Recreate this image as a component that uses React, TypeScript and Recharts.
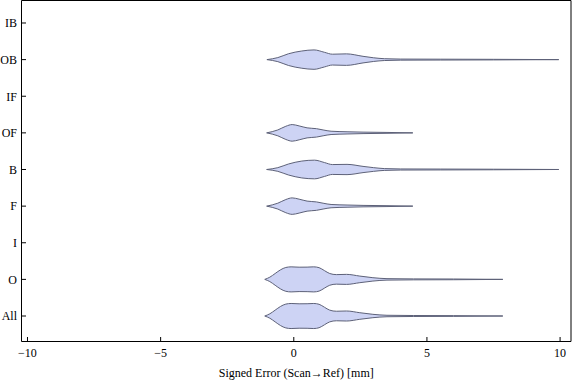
import { Area, ComposedChart, XAxis, YAxis } from "recharts";

// top to bottom, as in the figure
const categories = ["IB", "OB", "IF", "OF", "B", "F", "I", "O", "All"];

const xMajorTicks = [-10, -5, 0, 5, 10];
const xMinorTicks = [
  -10, -9, -8, -7, -6, -5, -4, -3, -2, -1, 0, 1, 2, 3, 4, 5, 6, 7, 8, 9, 10,
];

// violin profiles: signed error [mm] and density half-width
const obX = [-1.01, -0.6, -0.2, 0.3, 0.76, 1.15, 1.45, 1.98, 2.6, 3.0, 3.4, 4.0, 5.5, 7.5, 9.95];
const obW = [0, 0.055, 0.16, 0.235, 0.265, 0.2, 0.148, 0.157, 0.09, 0.05, 0.025, 0.015, 0.012, 0.008, 0];

const ofX = [-1.02, -0.6, -0.3, -0.06, 0.2, 0.5, 0.85, 1.1, 1.4, 2.0, 2.6, 3.5, 4.47];
const ofW = [0, 0.08, 0.18, 0.227, 0.19, 0.137, 0.115, 0.08, 0.045, 0.03, 0.02, 0.012, 0];

const bX = [-1.02, -0.6, -0.2, 0.3, 0.78, 1.15, 1.45, 2.0, 2.6, 3.0, 3.4, 4.0, 5.5, 7.5, 9.95];
const bW = [0, 0.05, 0.15, 0.23, 0.255, 0.19, 0.135, 0.14, 0.085, 0.05, 0.025, 0.015, 0.012, 0.008, 0];

const fX = [-1.02, -0.6, -0.3, -0.06, 0.2, 0.5, 0.85, 1.1, 1.4, 2.0, 2.6, 3.5, 4.47];
const fW = [0, 0.08, 0.18, 0.225, 0.19, 0.137, 0.115, 0.08, 0.045, 0.03, 0.02, 0.012, 0];

const oX = [-1.09, -0.9, -0.7, -0.5, -0.3, -0.1, 0.2, 0.5, 0.75, 0.95, 1.15, 1.35, 1.6, 1.98, 2.48, 2.97, 3.5, 4.5, 6.0, 7.85];
const oW = [0, 0.06, 0.16, 0.26, 0.325, 0.342, 0.333, 0.335, 0.342, 0.32, 0.24, 0.16, 0.13, 0.137, 0.09, 0.046, 0.02, 0.013, 0.01, 0];

const allX = [-1.09, -0.9, -0.7, -0.5, -0.3, -0.1, 0.2, 0.5, 0.75, 0.95, 1.15, 1.35, 1.6, 1.98, 2.48, 2.97, 3.5, 4.5, 6.0, 7.85];
const allW = [0, 0.06, 0.16, 0.26, 0.325, 0.342, 0.333, 0.335, 0.342, 0.32, 0.24, 0.16, 0.13, 0.137, 0.09, 0.046, 0.02, 0.013, 0.01, 0];

const profiles: Record<string, { x: number[]; w: number[] }> = {
  OB: { x: obX, w: obW },
  OF: { x: ofX, w: ofW },
  B: { x: bX, w: bW },
  F: { x: fX, w: fW },
  O: { x: oX, w: oW },
  All: { x: allX, w: allW },
};

const catPos = (i: number) => categories.length - i;
const yTicks = categories.map((_, i) => catPos(i));
const labelAt = (v: number) => categories[categories.length - v] ?? "";
const fmtX = (v: number) => (v < 0 ? `\u2212${Math.abs(v)}` : String(v));

const serif = "Liberation Serif";
const font = { fontFamily: serif, fontSize: 12, fill: "#000" };
const frame = { stroke: "#000", strokeWidth: 1 };

export default function App() {
  const series = categories
    .map((cat, i) => {
      const p = profiles[cat];
      if (!p) return null;
      const c = catPos(i);
      return {
        cat,
        data: p.x.map((x, k) => ({ x, range: [c - p.w[k], c + p.w[k]] })),
      };
    })
    .filter(Boolean) as { cat: string; data: { x: number; range: number[] }[] }[];

  const xDomain = [-10.225, 10.41];
  const yDomain = [0.304, 9.614];

  return (
    <div style={{ position: "absolute", left: 0, top: 0, fontFamily: serif }}>
      <ComposedChart
        width={576}
        height={381}
        margin={{ top: 0.5, right: 5, bottom: 0, left: 0.5 }}
        style={{ fontFamily: serif }}
      >
        <XAxis
          xAxisId="minorBottom"
          type="number"
          orientation="bottom"
          mirror
          domain={xDomain}
          ticks={xMinorTicks}
          tick={false}
          tickSize={2.5}
          axisLine={false}
          tickLine={frame}
          allowDataOverflow
        />
        <XAxis
          xAxisId="main"
          dataKey="x"
          type="number"
          orientation="bottom"
          height={39.5}
          domain={xDomain}
          ticks={xMajorTicks}
          tickFormatter={fmtX}
          tick={font}
          tickSize={-4.5}
          tickMargin={11}
          axisLine={frame}
          tickLine={frame}
          allowDataOverflow
          label={{
            value: "Signed Error (Scan\u2192Ref) [mm]",
            position: "insideBottom",
            offset: 4,
            style: font,
          }}
        />
        <XAxis
          xAxisId="top"
          type="number"
          orientation="top"
          mirror
          domain={xDomain}
          ticks={xMinorTicks}
          tick={false}
          tickSize={4}
          axisLine={frame}
          tickLine={frame}
          allowDataOverflow
        />
        <YAxis
          yAxisId="main"
          type="number"
          width={21}
          domain={yDomain}
          ticks={yTicks}
          tickFormatter={labelAt}
          tick={font}
          tickSize={-4.5}
          tickMargin={9}
          axisLine={frame}
          tickLine={frame}
          allowDataOverflow
        />
        <YAxis
          yAxisId="right"
          type="number"
          orientation="right"
          mirror
          domain={yDomain}
          ticks={yTicks}
          tick={false}
          tickSize={4.5}
          axisLine={frame}
          tickLine={frame}
          allowDataOverflow
        />
        {series.map((s) => (
          <Area
            key={s.cat}
            xAxisId="main"
            yAxisId="main"
            data={s.data}
            dataKey="range"
            type="monotone"
            stroke="#5d6178"
            strokeWidth={1}
            fill="#cdd3f4"
            fillOpacity={1}
            dot={false}
            activeDot={false}
            isAnimationActive={false}
          />
        ))}
      </ComposedChart>
    </div>
  );
}
